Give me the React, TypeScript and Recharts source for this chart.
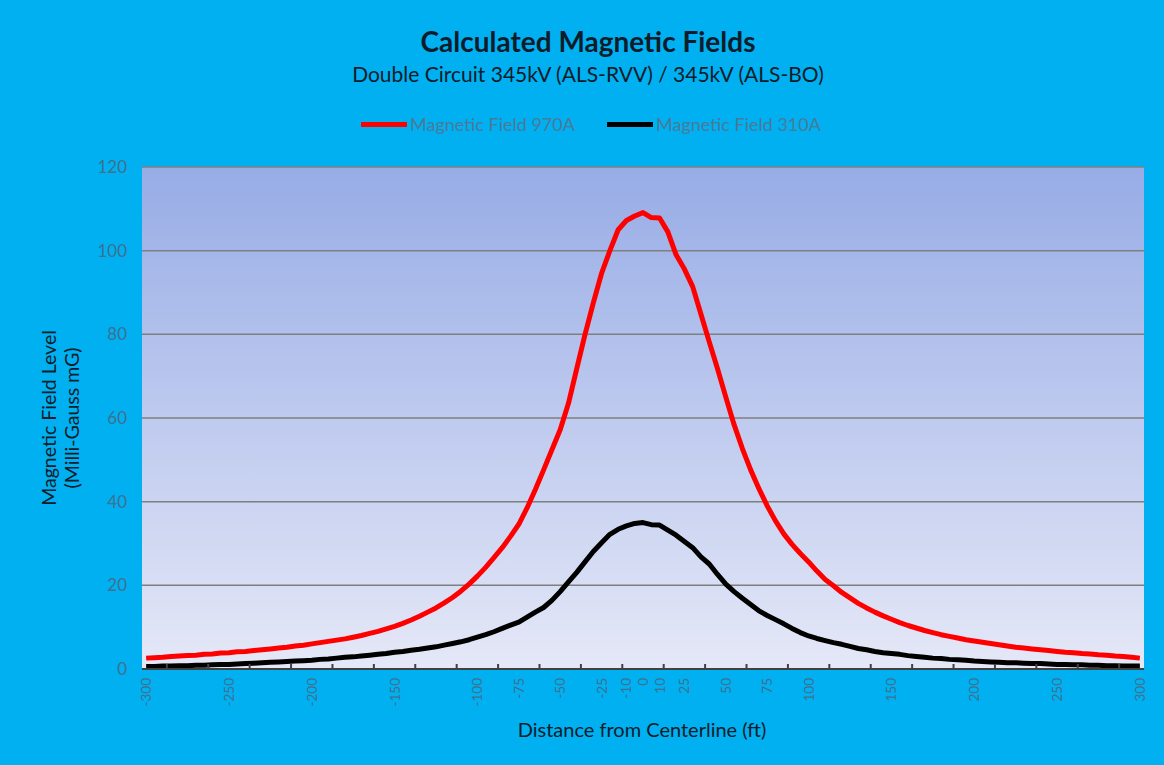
import { LineChart, Line, XAxis, YAxis, CartesianGrid } from "recharts";

// distance from centerline (ft), one point every 5 ft
const distances = [
  -300, -295, -290, -285, -280, -275, -270, -265, -260, -255,
  -250, -245, -240, -235, -230, -225, -220, -215, -210, -205,
  -200, -195, -190, -185, -180, -175, -170, -165, -160, -155,
  -150, -145, -140, -135, -130, -125, -120, -115, -110, -105,
  -100, -95, -90, -85, -80, -75, -70, -65, -60, -55,
  -50, -45, -40, -35, -30, -25, -20, -15, -10, -5,
  0,
  5, 10, 15, 20, 25, 30, 35, 40, 45, 50,
  55, 60, 65, 70, 75, 80, 85, 90, 95, 100,
  105, 110, 115, 120, 125, 130, 135, 140, 145, 150,
  155, 160, 165, 170, 175, 180, 185, 190, 195, 200,
  205, 210, 215, 220, 225, 230, 235, 240, 245, 250,
  255, 260, 265, 270, 275, 280, 285, 290, 295, 300,
];

// Magnetic Field 970A (mG)
const field970 = [
  2.6, 2.7, 2.8, 3.0, 3.1, 3.2, 3.3, 3.5, 3.6, 3.8,
  3.9, 4.1, 4.2, 4.4, 4.6, 4.8, 5.0, 5.2, 5.5, 5.7,
  6.0, 6.3, 6.6, 6.9, 7.2, 7.6, 8.0, 8.5, 9.0, 9.6,
  10.2, 10.9, 11.7, 12.6, 13.6, 14.6, 15.8, 17.1, 18.6, 20.3,
  22.2, 24.3, 26.6, 29.0, 31.7, 34.6, 38.5, 42.9, 47.6, 52.4,
  57.2, 63.5, 71.8, 80.0, 87.5, 94.6, 100.0, 105.0, 107.2, 108.3,
  109.1,
  107.9, 107.8, 104.5, 99.0, 95.6, 91.4, 84.8, 78.2, 71.8, 65.0,
  58.4, 52.7, 47.6, 43.1, 39.0, 35.4, 32.3, 29.8, 27.6, 25.6,
  23.4, 21.4, 19.9, 18.3, 17.0, 15.7, 14.6, 13.6, 12.7, 11.9,
  11.1, 10.4, 9.8, 9.2, 8.7, 8.2, 7.8, 7.4, 7.0, 6.7,
  6.4, 6.1, 5.8, 5.5, 5.2, 5.0, 4.8, 4.6, 4.4, 4.2,
  4.0, 3.9, 3.7, 3.6, 3.4, 3.3, 3.1, 3.0, 2.8, 2.6,
];

// Magnetic Field 310A (mG)
const field310 = [
  0.6, 0.6, 0.7, 0.7, 0.8, 0.8, 0.9, 0.9, 1.0, 1.1,
  1.1, 1.2, 1.3, 1.4, 1.5, 1.6, 1.7, 1.8, 1.9, 2.0,
  2.1, 2.3, 2.4, 2.6, 2.8, 2.9, 3.1, 3.3, 3.5, 3.7,
  4.0, 4.2, 4.5, 4.7, 5.0, 5.3, 5.7, 6.1, 6.5, 7.0,
  7.6, 8.2, 8.9, 9.7, 10.5, 11.2, 12.4, 13.6, 14.7, 16.4,
  18.5, 20.8, 23.1, 25.6, 28.1, 30.2, 32.2, 33.4, 34.2, 34.8,
  35.0,
  34.5, 34.4, 33.2, 32.0, 30.5, 29.0, 26.8, 25.1, 22.6, 20.3,
  18.5, 16.9, 15.4, 13.9, 12.8, 11.8, 10.8, 9.7, 8.7, 7.9,
  7.3, 6.8, 6.3, 5.9, 5.4, 4.9, 4.6, 4.2, 3.9, 3.7,
  3.5, 3.2, 3.0, 2.8, 2.6, 2.5, 2.3, 2.2, 2.1, 1.9,
  1.8, 1.7, 1.6, 1.5, 1.5, 1.4, 1.3, 1.3, 1.2, 1.1,
  1.1, 1.0, 1.0, 0.9, 0.9, 0.8, 0.8, 0.7, 0.7, 0.7,
];

const labelTicks = [-300, -250, -200, -150, -100, -75, -50, -25, -10, 0, 10, 25, 50, 75, 100, 150, 200, 250, 300];
const minorTicks = [
  -287.5, -262.5, -237.5, -212.5, -187.5, -162.5, -137.5, -112.5, -87.5, -62.5, -37.5, -12.5,
  12.5, 37.5, 62.5, 87.5, 112.5, 137.5, 162.5, 187.5, 212.5, 237.5, 262.5, 287.5,
];
const yTicks = [0, 20, 40, 60, 80, 100, 120];

const data = distances.map((d, i) => ({ d, a: field970[i], b: field310[i] }));
const allTicks = [...labelTicks, ...minorTicks].sort((p, q) => p - q);

const FONT = "Lato, 'Open Sans', sans-serif";
const TICK_COLOR = "#3f7190";
const DARK = "#0e1c2b";

function DistanceTick(props: any) {
  const { x, y, payload } = props;
  const v = payload.value;
  if (labelTicks.includes(v)) {
    const ty = y + 9;
    return (
      <text
        x={x}
        y={ty}
        transform={`rotate(-90 ${x} ${ty})`}
        textAnchor="end"
        dominantBaseline="central"
        fontSize={13.5}
        fontFamily={FONT}
        fill={TICK_COLOR}
      >
        {v}
      </text>
    );
  }
  return <line x1={x} x2={x} y1={y} y2={y - 5} stroke="#404040" strokeWidth={2} />;
}

export default function App() {
  return (
    <div
      style={{
        position: "absolute",
        left: 0,
        top: 0,
        width: 1164,
        height: 765,
        background: "#00B0F0",
        fontFamily: FONT,
        overflow: "hidden",
      }}
    >
      <LineChart width={1164} height={765} data={data} margin={{ top: 167, right: 20, bottom: 36, left: 82 }}>
        <defs>
          <linearGradient id="plotBg" x1="0" y1="0" x2="0" y2="1">
            <stop offset="0%" stopColor="#97ace6" />
            <stop offset="100%" stopColor="#e5e8f7" />
          </linearGradient>
        </defs>
        <CartesianGrid vertical={false} stroke="#7f7f7f" strokeWidth={1.5} fill="url(#plotBg)" fillOpacity={1} />
        <XAxis
          dataKey="d"
          type="number"
          domain={[-302.5, 302.5]}
          ticks={allTicks}
          interval={0}
          tick={<DistanceTick />}
          tickLine={false}
          tickSize={0}
          tickMargin={0}
          axisLine={{ stroke: "#404040", strokeWidth: 2 }}
          height={60}
          allowDataOverflow
        />
        <YAxis
          domain={[0, 120]}
          ticks={yTicks}
          axisLine={false}
          tickLine={false}
          tickMargin={9}
          width={60}
          tick={{ fontSize: 17, fill: TICK_COLOR, fontFamily: FONT }}
        />
        <Line
          type="linear"
          dataKey="a"
          name="Magnetic Field 970A"
          stroke="#ff0000"
          strokeWidth={5}
          dot={false}
          strokeLinejoin="round"
          isAnimationActive={false}
        />
        <Line
          type="linear"
          dataKey="b"
          name="Magnetic Field 310A"
          stroke="#000000"
          strokeWidth={5}
          dot={false}
          strokeLinejoin="round"
          isAnimationActive={false}
        />
      </LineChart>

      <div style={{ position: "absolute", left: 0, width: 1176, top: 25, textAlign: "center", fontSize: 28, fontWeight: 700, color: DARK, lineHeight: "32px" }}>
        Calculated Magnetic Fields
      </div>
      <div style={{ position: "absolute", left: 0, width: 1176, top: 61, textAlign: "center", fontSize: 21, color: DARK, lineHeight: "26px" }}>
        Double Circuit 345kV (ALS-RVV) / 345kV (ALS-BO)
      </div>

      <div style={{ position: "absolute", left: 361, top: 113, display: "flex", alignItems: "center", height: 22 }}>
        <span style={{ display: "inline-block", width: 46, height: 5, background: "#ff0000", marginRight: 3 }} />
        <span style={{ fontSize: 18, color: "#4a7a9a" }}>Magnetic Field 970A</span>
      </div>
      <div style={{ position: "absolute", left: 607, top: 113, display: "flex", alignItems: "center", height: 22 }}>
        <span style={{ display: "inline-block", width: 46, height: 5, background: "#000000", marginRight: 3 }} />
        <span style={{ fontSize: 18, color: "#4a7a9a" }}>Magnetic Field 310A</span>
      </div>

      <div
        style={{
          position: "absolute",
          left: 60 - 150,
          top: 418 - 23,
          width: 300,
          textAlign: "center",
          fontSize: 19.5,
          lineHeight: "23px",
          color: DARK,
          transform: "rotate(-90deg)",
        }}
      >
        Magnetic Field Level
        <br />
        (Milli-Gauss mG)
      </div>
      <div style={{ position: "absolute", left: 0, width: 1284, top: 717, textAlign: "center", fontSize: 20, color: DARK, lineHeight: "24px" }}>
        Distance from Centerline (ft)
      </div>
    </div>
  );
}
